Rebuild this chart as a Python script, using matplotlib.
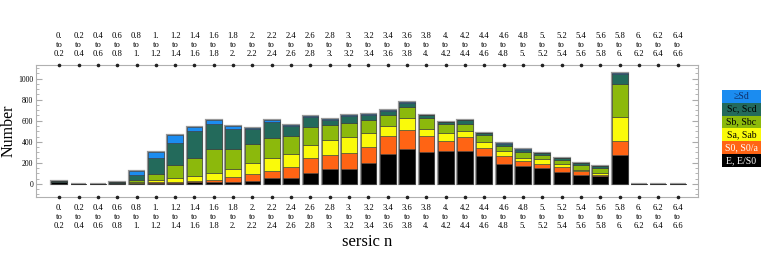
import matplotlib
matplotlib.use("Agg")
import matplotlib.pyplot as plt
import numpy as np
from matplotlib.patches import Rectangle

plt.rcParams['font.family'] = ['Liberation Serif', 'DejaVu Serif']

# lower edges of the sersic n bins (width 0.2)
bin_lo = [round(0.2 * i, 1) for i in range(33)]

# counts per morphological class, bottom to top
E_E_S0 = [15, 0, 0, 5, 6, 6, 7, 13, 20, 16, 26, 56, 59, 105, 141, 141, 199, 288, 334, 301,
          311, 314, 265, 193, 173, 147, 114, 85, 75, 275, 0, 0, 0]
S0_S0a = [0, 0, 0, 0, 6, 7, 13, 13, 19, 46, 66, 68, 105, 140, 137, 153, 148, 163, 176, 150,
          101, 127, 72, 72, 43, 43, 46, 33, 13, 134, 0, 0, 0]
Sa_Sab = [0, 0, 0, 0, 8, 20, 36, 52, 66, 75, 104, 118, 124, 125, 141, 151, 134, 98, 115, 75,
          72, 66, 62, 49, 33, 42, 30, 13, 13, 222, 0, 0, 0]
Sb_Sbc = [0, 0, 0, 2, 13, 65, 121, 167, 225, 193, 187, 196, 163, 170, 140, 131, 124, 102, 101, 99,
          82, 65, 62, 46, 52, 46, 39, 52, 49, 321, 0, 0, 0]
Sc_Scd = [10, 0, 0, 8, 55, 147, 215, 255, 242, 190, 137, 154, 95, 91, 52, 70, 52, 44, 41, 25,
          23, 31, 23, 23, 23, 17, 13, 17, 15, 88, 0, 0, 0]
ge_Sd = [3, 0, 0, 1, 30, 59, 69, 43, 33, 29, 13, 13, 13, 10, 7, 5, 4, 5, 8, 4,
         3, 5, 3, 3, 3, 3, 3, 3, 2, 10, 0, 0, 0]

names = ['E, E/S0', 'S0, S0/a', 'Sa, Sab', 'Sb, Sbc', 'Sc, Scd', '\u2265Sd']
series = [E_E_S0, S0_S0a, Sa_Sab, Sb_Sbc, Sc_Scd, ge_Sd]
colors = ['#000000', '#ff6414', '#fafa0a', '#8cb90c', '#236a5b', '#1b8cf0']
txtcol = ['white', 'white', 'black', 'black', 'black', '#10306a']


def fmt(v):
    return f"{int(round(v))}." if abs(v - round(v)) < 1e-9 else f"{v:.1f}"


labels = [f"{fmt(a)}\nto\n{fmt(a + 0.2)}" for a in bin_lo]

fig = plt.figure(figsize=(7.61, 2.70), dpi=100)
ax = fig.add_axes([36 / 761, 73 / 270, 662 / 761, 132 / 270])

x = np.arange(len(bin_lo))
w = 0.82
bottom = np.zeros(len(x))
totals = np.sum(series, axis=0)
ax.bar(x, totals, w, color='none', edgecolor='#999999', linewidth=1.6, zorder=1)
for vals, col in zip(series, colors):
    ax.bar(x, vals, w, bottom=bottom, color=col, edgecolor='#333333', linewidth=0.4, zorder=2)
    bottom += np.array(vals)

ax.set_xlim(-1.2, 33.05)
ax.set_ylim(-125, 1130)

for s in ax.spines.values():
    s.set_color('#b0b0b0')
    s.set_linewidth(0.8)

ax.set_yticks(range(0, 1001, 200))
ax.set_yticks(range(-100, 1101, 50), minor=True)
ax.tick_params(axis='y', which='both', direction='in', right=True, labelsize=5.5,
               color='#aaaaaa', pad=2)
ax.tick_params(axis='y', which='major', length=4)
ax.tick_params(axis='y', which='minor', length=2)

ax.set_xticks(x, labels)
ax.tick_params(axis='x', length=0, labelsize=6.2, pad=5, top=True, labeltop=True)
for t in ax.xaxis.get_majorticklabels():
    t.set_linespacing(1.15)
for tk in ax.xaxis.get_major_ticks():
    tk.label2.set_linespacing(1.15)
ax.plot(x, np.zeros(len(x)), 'o', ms=1.6, color='#222222',
        transform=ax.get_xaxis_transform(), clip_on=False, zorder=5)
ax.plot(x, np.ones(len(x)), 'o', ms=1.6, color='#222222',
        transform=ax.get_xaxis_transform(), clip_on=False, zorder=5)

ax.set_ylabel('Number', fontsize=11.5, va='center')
ax.yaxis.set_label_coords(-27 / 662, 0.5)
ax.set_xlabel('sersic n', fontsize=12, labelpad=3)

# legend boxes on the right
lx, lw_, top, h = 722 / 761, 39 / 761, 90 / 270, 12.8 / 270
for i, (n, c, tc) in enumerate(zip(names[::-1], colors[::-1], txtcol[::-1])):
    y0 = 1 - top - (i + 1) * h
    fig.patches.append(Rectangle((lx, y0), lw_, h, transform=fig.transFigure,
                                 facecolor=c, edgecolor='none'))
    fig.text(lx + lw_ / 2, y0 + h / 2, n, color=tc, fontsize=7,
             ha='center', va='center')

fig.savefig('out.png', dpi=100)
